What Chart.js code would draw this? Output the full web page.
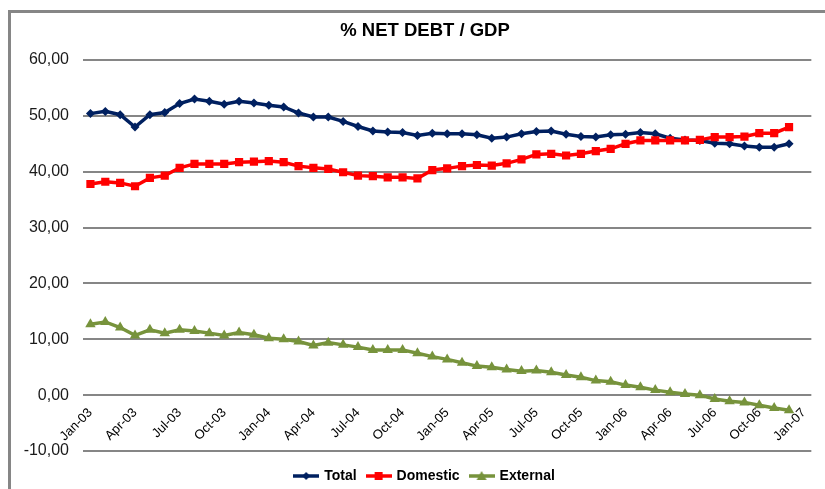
<!DOCTYPE html>
<html>
<head>
<meta charset="utf-8">
<script src="https://cdn.jsdelivr.net/npm/chart.js@4.4.1/dist/chart.umd.min.js"></script>
<style>
  body { margin: 0; background: #fff; }
  #wrap { position: relative; width: 825px; height: 489px; overflow: hidden; }
  #frame { position: absolute; left: 8px; top: 10px; width: 900px; height: 600px;
           border-left: 3px solid #868686; border-top: 3px solid #868686; }
  #chart { position: absolute; left: 0; top: 0; }
</style>
</head>
<body>
<div id="wrap">
  <div id="frame"></div>
  <canvas id="chart" width="825" height="489"></canvas>
</div>
<script>
// ── Dados ───────────────────────────────────────────────
const months = [
  'Jan-03','Feb-03','Mar-03','Apr-03','May-03','Jun-03','Jul-03','Aug-03','Sep-03','Oct-03','Nov-03','Dec-03',
  'Jan-04','Feb-04','Mar-04','Apr-04','May-04','Jun-04','Jul-04','Aug-04','Sep-04','Oct-04','Nov-04','Dec-04',
  'Jan-05','Feb-05','Mar-05','Apr-05','May-05','Jun-05','Jul-05','Aug-05','Sep-05','Oct-05','Nov-05','Dec-05',
  'Jan-06','Feb-06','Mar-06','Apr-06','May-06','Jun-06','Jul-06','Aug-06','Sep-06','Oct-06','Nov-06','Dec-06',
  'Jan-07',
];

const total = [
  50.4, 50.8, 50.2, 48.0, 50.2, 50.6, 52.2, 53.0, 52.6, 52.1, 52.6, 52.3,
  51.9, 51.6, 50.5, 49.8, 49.8, 49.0, 48.1, 47.3, 47.1, 47.0, 46.5, 46.9,
  46.8, 46.8, 46.6, 46.0, 46.2, 46.8, 47.2, 47.3, 46.7, 46.3, 46.2, 46.6,
  46.7, 47.0, 46.8, 46.0, 45.7, 45.6, 45.1, 45.0, 44.6, 44.4, 44.4, 45.0,
];

const domestic = [
  37.8, 38.2, 38.0, 37.4, 38.9, 39.3, 40.7, 41.4, 41.4, 41.4, 41.7, 41.8,
  41.9, 41.7, 41.0, 40.7, 40.5, 39.9, 39.3, 39.2, 39.0, 39.0, 38.8, 40.3,
  40.6, 41.0, 41.2, 41.1, 41.5, 42.2, 43.1, 43.2, 42.9, 43.2, 43.7, 44.1,
  45.0, 45.6, 45.6, 45.6, 45.6, 45.7, 46.2, 46.2, 46.3, 46.9, 46.9, 48.0,
];

const external = [
  12.7, 13.1, 12.1, 10.7, 11.7, 11.1, 11.7, 11.5, 11.1, 10.7, 11.2, 10.8,
  10.2, 10.0,  9.6,  8.9,  9.4,  9.0,  8.6,  8.1,  8.1,  8.1,  7.5,  6.9,
   6.4,  5.8,  5.2,  5.0,  4.6,  4.3,  4.4,  4.1,  3.6,  3.2,  2.6,  2.4,
   1.8,  1.4,  0.9,  0.5,  0.2,  0.0, -0.7, -1.1, -1.3, -1.8, -2.3, -2.7,
];

const yMin = -10;
const yMax = 60;
const yStep = 10;

// ── Cores ───────────────────────────────────────────────
const NAVY  = '#002060';
const RED   = '#FF0000';
const GREEN = '#77933C';
const GRID  = '#868686';
const FONT  = "'Liberation Sans', Arial, sans-serif";

// ícone da legenda: linha + marcador
function legendIcon(color, shape) {
  const c = document.createElement('canvas');
  c.width = 26; c.height = 12;
  const g = c.getContext('2d');
  g.strokeStyle = color; g.fillStyle = color; g.lineWidth = 3.5;
  g.beginPath(); g.moveTo(0, 6); g.lineTo(26, 6); g.stroke();
  g.beginPath();
  if (shape === 'rectRot') {
    g.moveTo(13, 2); g.lineTo(17, 6); g.lineTo(13, 10); g.lineTo(9, 6);
  } else if (shape === 'rect') {
    g.rect(9, 2, 8, 8);
  } else {
    g.moveTo(13, 1); g.lineTo(18, 10); g.lineTo(8, 10);
  }
  g.closePath(); g.fill();
  return c;
}

const series = [
  { label: 'Total',    data: total,    color: NAVY,  style: 'rectRot',  radius: 4.5, order: 1 },
  { label: 'Domestic', data: domestic, color: RED,   style: 'rect',     radius: 5.8, order: 0 },
  { label: 'External', data: external, color: GREEN, style: 'triangle', radius: 6,   order: 2 },
];

// rótulos do eixo Y sem recorte à esquerda (o "-10,00" passa da caixa do eixo)
const unclipY = {
  id: 'unclipY',
  afterLayout: (chart) => { chart.scales.y.left = 0; },
};

new Chart(document.getElementById('chart'), {
  type: 'line',
  data: {
    labels: months,
    datasets: series.map((s) => ({
      label: s.label,
      data: s.data,
      borderColor: s.color,
      backgroundColor: s.color,
      borderWidth: 3.5,
      pointStyle: s.style,
      pointRadius: s.radius,
      pointBorderWidth: 0,
      tension: 0,
      order: s.order,
    })),
  },
  plugins: [unclipY],
  options: {
    responsive: false,
    animation: false,
    devicePixelRatio: 1,
    layout: { padding: { left: 30, right: 5, top: 0, bottom: -4 } },
    plugins: {
      tooltip: { enabled: false },
      title: {
        display: true,
        text: '% NET DEBT / GDP',
        color: '#000',
        font: { family: FONT, size: 18.5, weight: 'bold' },
        padding: { top: 20, bottom: 17.8 },
      },
      legend: {
        position: 'bottom',
        title: { display: true, text: '', padding: 0, font: { size: 7, lineHeight: 1 } },
        labels: {
          color: '#000',
          font: { family: FONT, size: 14, weight: 'bold' },
          usePointStyle: true,
          pointStyleWidth: 22,
          padding: 11,
          generateLabels: (chart) => chart.data.datasets.map((ds, i) => ({
            text: ds.label,
            pointStyle: legendIcon(series[i].color, series[i].style),
            fontColor: '#000',
            datasetIndex: i,
            hidden: false,
          })),
        },
      },
    },
    scales: {
      x: {
        type: 'category',
        position: { y: 0 },
        offset: true,
        grid: { display: false, drawTicks: false },
        border: { display: false },
        ticks: {
          autoSkip: false,
          minRotation: 45,
          maxRotation: 45,
          padding: 10,
          color: '#000',
          font: { family: FONT, size: 13 },
          callback: function (val, idx) {
            return idx % 3 === 0 ? this.getLabelForValue(val) : '';
          },
        },
      },
      y: {
        min: yMin,
        max: yMax,
        border: { display: false },
        grid: { color: GRID, lineWidth: 2, drawTicks: false },
        ticks: {
          stepSize: yStep,
          padding: 14,
          color: '#1a1a1a',
          font: { family: FONT, size: 16 },
          callback: (v) => v.toFixed(2).replace('.', ','),
        },
        afterFit: (scale) => { scale.width = 53; },
      },
    },
  },
});
</script>
</body>
</html>
